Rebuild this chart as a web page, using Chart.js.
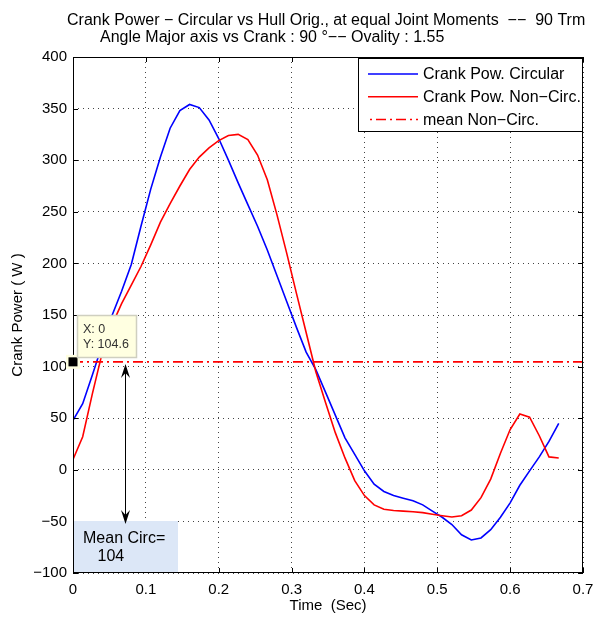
<!DOCTYPE html>
<html>
<head>
<meta charset="utf-8">
<script src="https://cdn.jsdelivr.net/npm/chart.js@4/dist/chart.umd.min.js"></script>
<style>
  html, body { margin: 0; padding: 0; background: #fff; }
</style>
</head>
<body>
<canvas id="crankPower" width="593" height="619"></canvas>
<script>
// Time axis (s), one revolution at 90 rpm
const timeSec = [
  0, 0.0133, 0.0267, 0.04, 0.0533, 0.0667, 0.08, 0.0933, 0.1067, 0.12,
  0.1333, 0.1467, 0.16, 0.1733, 0.1867, 0.2, 0.2133, 0.2267, 0.24, 0.2533,
  0.2667, 0.28, 0.2933, 0.3067, 0.32, 0.3333, 0.3467, 0.36, 0.3733, 0.3867,
  0.4, 0.4133, 0.4267, 0.44, 0.4533, 0.4667, 0.48, 0.4933, 0.5067, 0.52,
  0.5333, 0.5467, 0.56, 0.5733, 0.5867, 0.6, 0.6133, 0.6267, 0.64, 0.6533,
  0.6667
];

// Crank power, circular chainring (W)
const powerCircular = [
  48, 64, 92, 121, 149, 173, 199, 236, 272, 303,
  331, 348, 354, 351, 339, 321, 300, 278, 257, 236,
  213, 188, 163, 138, 114, 97, 75, 53, 31, 15,
  -1, -14, -21, -25, -27.5, -30, -34, -40, -46, -53,
  -63, -68, -66, -58, -46, -32, -15, -1, 12.5, 27.5,
  45
];

// Crank power, non-circular chainring (W)
const powerNonCirc = [
  10, 32, 74, 113, 140, 161, 179, 197, 218, 240,
  258, 275, 291, 303, 312, 319, 324, 325, 320, 305,
  281, 247, 210, 171, 133, 95, 65, 36, 11.5, -10.5,
  -25, -34, -38.3, -39.5, -40, -40.7, -41.5, -43, -44.5, -45.8,
  -44.5, -39, -27, -9, 16, 39, 54, 51, 33, 12.5,
  11.5
];

const meanNonCirc = 104.6;
const meanCircLabel = "104";

const xTicks = [0, 0.1, 0.2, 0.3, 0.4, 0.5, 0.6, 0.7];
const yTicks = [-100, -50, 0, 50, 100, 150, 200, 250, 300, 350, 400];

const titleLines = [
  "Crank Power \u2212 Circular vs Hull Orig., at equal Joint Moments  \u2212\u2212  90 Trm",
  "Angle Major axis vs Crank : 90 \u00b0\u2212\u2212 Ovality : 1.55"
];

const FONT = '"Liberation Sans", Arial, sans-serif';
const dashDot = [10, 4, 2, 4];

function toPoints(xs, ys) {
  return xs.map((t, i) => ({ x: t, y: ys[i] }));
}

// Draws title, frame, inner ticks, legend, datatip and annotation
const overlayPlugin = {
  id: "overlay",
  afterDatasetsDraw(chart) {
    const { ctx, chartArea: a, scales } = chart;
    const x = scales.x, y = scales.y;
    ctx.save();

    // title
    ctx.fillStyle = "#000";
    ctx.font = "16px " + FONT;
    ctx.textBaseline = "alphabetic";
    ctx.fillText(titleLines[0], 67, 25);
    ctx.fillText(titleLines[1], 100, 42);

    // frame
    ctx.strokeStyle = "#000";
    ctx.lineWidth = 1;
    ctx.setLineDash([]);
    ctx.strokeRect(a.left + 0.5, a.top + 0.5, a.right - a.left - 1, a.bottom - a.top - 1);

    // inward tick marks on all four sides
    ctx.beginPath();
    xTicks.forEach((v) => {
      const px = Math.round(x.getPixelForValue(v)) + 0.5;
      ctx.moveTo(px, a.bottom); ctx.lineTo(px, a.bottom - 5);
      ctx.moveTo(px, a.top); ctx.lineTo(px, a.top + 5);
    });
    yTicks.forEach((v) => {
      const py = Math.round(y.getPixelForValue(v)) + 0.5;
      ctx.moveTo(a.left, py); ctx.lineTo(a.left + 5, py);
      ctx.moveTo(a.right, py); ctx.lineTo(a.right - 5, py);
    });
    ctx.stroke();

    // legend
    const lg = { left: 358.5, top: 58.5, w: 224, h: 73 };
    ctx.fillStyle = "#fff";
    ctx.fillRect(lg.left, lg.top, lg.w, lg.h);
    ctx.strokeRect(lg.left, lg.top, lg.w, lg.h);
    const rows = [
      { text: "Crank Pow. Circular", color: "#0000ff", dash: [] },
      { text: "Crank Pow. Non\u2212Circ.", color: "#ff0000", dash: [] },
      { text: "mean Non\u2212Circ.", color: "#ff0000", dash: dashDot }
    ];
    ctx.font = "16px " + FONT;
    ctx.textBaseline = "middle";
    rows.forEach((r, i) => {
      const ry = 74 + i * 22.7;
      ctx.strokeStyle = r.color;
      ctx.lineWidth = 1.5;
      ctx.setLineDash(r.dash);
      ctx.lineDashOffset = r.dash.length ? 12 : 0;
      ctx.beginPath();
      ctx.moveTo(368, ry); ctx.lineTo(418, ry);
      ctx.stroke();
      ctx.fillStyle = "#000";
      ctx.fillText(r.text, 423, ry + 1);
    });
    ctx.setLineDash([]);
    ctx.lineDashOffset = 0;

    // datatip marker at (0, mean)
    const mx = x.getPixelForValue(0);
    const my = y.getPixelForValue(meanNonCirc);
    ctx.fillStyle = "#ffffe1";
    ctx.fillRect(mx - 7, my - 7, 14, 14);
    ctx.fillStyle = "#000";
    ctx.fillRect(mx - 4.5, my - 4.5, 9, 9);

    // datatip box
    ctx.fillStyle = "#ffffe1";
    ctx.fillRect(77.5, 315.5, 59, 42);
    ctx.strokeStyle = "#cfcfc0";
    ctx.strokeRect(77.5, 315.5, 59, 42);
    ctx.fillStyle = "#333";
    ctx.font = "12.5px " + FONT;
    ctx.textBaseline = "alphabetic";
    ctx.fillText("X: 0", 83, 333);
    ctx.fillText("Y: " + meanNonCirc, 83, 347.5);

    // mean circ text box
    ctx.fillStyle = "#dce7f7";
    ctx.fillRect(a.left + 1, 521, 177 - a.left, a.bottom - 522);
    ctx.fillStyle = "#000";
    ctx.font = "16px " + FONT;
    ctx.fillText("Mean Circ=", 83, 543);
    ctx.fillText(meanCircLabel, 97.5, 560.5);

    // double-headed arrow
    const ax = 125.5, y1 = 364, y2 = 524;
    ctx.strokeStyle = "#000";
    ctx.lineWidth = 1;
    ctx.beginPath();
    ctx.moveTo(ax, y1 + 6); ctx.lineTo(ax, y2 - 6);
    ctx.stroke();
    ctx.fillStyle = "#000";
    [[y1, 1], [y2, -1]].forEach(([tip, d]) => {
      ctx.beginPath();
      ctx.moveTo(ax, tip);
      ctx.lineTo(ax - 4.5, tip + d * 14);
      ctx.lineTo(ax, tip + d * 9);
      ctx.lineTo(ax + 4.5, tip + d * 14);
      ctx.closePath();
      ctx.fill();
    });

    ctx.restore();
  }
};

new Chart(document.getElementById("crankPower"), {
  type: "line",
  data: {
    datasets: [
      {
        label: "Crank Pow. Circular",
        data: toPoints(timeSec, powerCircular),
        borderColor: "#0000ff",
        borderWidth: 1.6,
        pointRadius: 0,
        tension: 0,
        order: 3
      },
      {
        label: "Crank Pow. Non-Circ.",
        data: toPoints(timeSec, powerNonCirc),
        borderColor: "#ff0000",
        borderWidth: 1.6,
        pointRadius: 0,
        tension: 0,
        order: 2
      },
      {
        label: "mean Non-Circ.",
        data: [{ x: 0, y: meanNonCirc }, { x: 0.7, y: meanNonCirc }],
        borderColor: "#ff0000",
        borderWidth: 1.6,
        borderDash: dashDot,
        pointRadius: 0,
        order: 1
      }
    ]
  },
  options: {
    responsive: false,
    devicePixelRatio: 1,
    animation: false,
    layout: { padding: { top: 57, right: 10, left: 0, bottom: 0 } },
    plugins: {
      legend: { display: false },
      tooltip: { enabled: false },
      title: { display: false }
    },
    scales: {
      x: {
        type: "linear",
        min: 0,
        max: 0.7,
        afterBuildTicks: (s) => { s.ticks = xTicks.map((v) => ({ value: v })); },
        afterFit: (s) => {
          s.height = 46;
          s.paddingLeft = 0;
          s.paddingRight = 0;
        },
        ticks: {
          color: "#000",
          font: { size: 15, family: FONT },
          padding: 8,
          maxRotation: 0,
          callback: (v) => String(+v.toFixed(1))
        },
        grid: { color: "#444", lineWidth: 1, drawTicks: false },
        border: { display: false, dash: [1, 4] },
        title: {
          display: true,
          text: "Time  (Sec)",
          color: "#000",
          font: { size: 15, family: FONT },
          padding: { top: 0 }
        }
      },
      y: {
        type: "linear",
        min: -100,
        max: 400,
        afterBuildTicks: (s) => { s.ticks = yTicks.map((v) => ({ value: v })); },
        afterFit: (s) => {
          s.width = 73;
          s.paddingTop = 0;
          s.paddingBottom = 0;
        },
        ticks: {
          color: "#000",
          font: { size: 15, family: FONT },
          padding: 6,
          callback: (v) => String(v).replace("-", "\u2212")
        },
        grid: { color: "#444", lineWidth: 1, drawTicks: false },
        border: { display: false, dash: [1, 4] },
        title: {
          display: true,
          text: "Crank Power ( W )",
          color: "#000",
          font: { size: 15, family: FONT },
          padding: { bottom: 0, top: 9 }
        }
      }
    }
  },
  plugins: [overlayPlugin]
});
</script>
</body>
</html>
